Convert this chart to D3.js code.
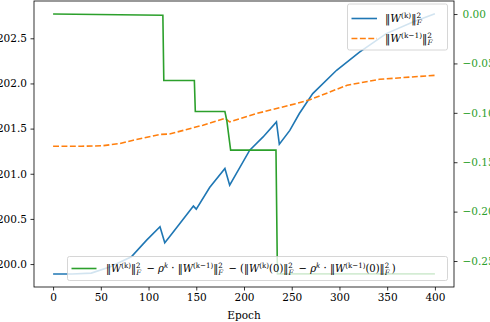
<!DOCTYPE html>
<html>
<head>
  <script src="https://d3js.org/d3.v7.min.js"></script>
  <style>
    body { margin: 0; background: white; }
    svg { display: block; }
    text { font-family: "DejaVu Serif", "Liberation Serif", serif; }
  </style>
</head>
<body>
<script>
// data
var blueEpoch = [0, 20, 40, 60, 82, 98, 112, 117, 122, 133, 147, 150, 164, 180, 185, 206, 220, 234, 237, 248, 258, 272, 297, 321, 349, 377, 400];
var blueVal   = [199.89, 199.89, 199.9, 199.97, 200.08, 200.265, 200.413, 200.236, 200.302, 200.453, 200.642, 200.608, 200.848, 201.059, 200.874, 201.261, 201.408, 201.574, 201.327, 201.48, 201.667, 201.888, 202.146, 202.348, 202.552, 202.68, 202.773];

var orangeEpoch = [0, 30, 52, 70, 84, 112, 122, 157, 180, 185, 213, 238, 255, 269, 308, 342, 400];
var orangeVal   = [201.305, 201.305, 201.31, 201.335, 201.372, 201.435, 201.44, 201.538, 201.612, 201.574, 201.667, 201.733, 201.778, 201.82, 201.98, 202.046, 202.09];

var greenEpoch = [0, 115, 116, 148, 149, 180, 182, 186, 233.5, 235, 400];
var greenVal   = [0.0, -0.0013, -0.0673, -0.0673, -0.0987, -0.0987, -0.108, -0.1378, -0.1378, -0.263, -0.263];

var xTicks = [0, 50, 100, 150, 200, 250, 300, 350, 400];
var yLeftTicks = [200.0, 200.5, 201.0, 201.5, 202.0, 202.5];
var yRightTicks = [0.0, -0.05, -0.10, -0.15, -0.20, -0.25];

var width = 490, height = 322;
var m = { left: 34, right: 454, top: 1, bottom: 287 };

var svg = d3.select("body").append("svg")
  .attr("width", width).attr("height", height);

var x = d3.scaleLinear().domain([-20, 420]).range([m.left, m.right]);
var yL = d3.scaleLinear().domain([199.746, 202.913]).range([m.bottom, m.top]);
var yR = d3.scaleLinear().domain([-0.2763, 0.0132]).range([m.bottom, m.top]);

var blue = "#1f77b4", orange = "#ff7f0e", green = "#2ca02c";

function toPts(ex, vals) { return ex.map(function(e, i) { return [e, vals[i]]; }); }

var lineL = d3.line().x(d => x(d[0])).y(d => yL(d[1]));
var lineR = d3.line().x(d => x(d[0])).y(d => yR(d[1]));

svg.append("path").attr("d", lineL(toPts(blueEpoch, blueVal)))
  .attr("fill", "none").attr("stroke", blue).attr("stroke-width", 1.6);
svg.append("path").attr("d", lineL(toPts(orangeEpoch, orangeVal)))
  .attr("fill", "none").attr("stroke", orange).attr("stroke-width", 1.6)
  .attr("stroke-dasharray", "5.9,2.5");

// math-ish label builder
function norm(t, sup, tail) {
  t.append("tspan").text("\u2016");
  t.append("tspan").attr("font-style", "italic").text("W");
  t.append("tspan").attr("font-size", "0.7em").attr("dy", -4).text(sup);
  t.append("tspan").attr("dy", 4).text((tail || "") + "\u2016");
  t.append("tspan").attr("font-size", "0.7em").attr("dy", -4).text("2");
  t.append("tspan").attr("font-size", "0.7em").attr("font-style", "italic").attr("dx", -4.5).attr("dy", 7).text("F");
  t.append("tspan").attr("dy", -3).text("\u2009");
}
function rho(t) {
  t.append("tspan").attr("font-style", "italic").text(" \u2212 \u03c1");
  t.append("tspan").attr("font-size", "0.7em").attr("font-style", "italic").attr("dy", -4).text("k");
  t.append("tspan").attr("dy", 4).text(" \u00b7 ");
}

// upper-right legend (left axis)
var lg = svg.append("g");
lg.append("rect").attr("x", 347.5).attr("y", 4).attr("width", 100).attr("height", 46).attr("rx", 2)
  .attr("fill", "white").attr("fill-opacity", 0.8).attr("stroke", "#cccccc").attr("stroke-width", 0.8);
lg.append("line").attr("x1", 351.5).attr("x2", 377).attr("y1", 18.5).attr("y2", 18.5)
  .attr("stroke", blue).attr("stroke-width", 1.6);
lg.append("line").attr("x1", 351.5).attr("x2", 377).attr("y1", 38.5).attr("y2", 38.5)
  .attr("stroke", orange).attr("stroke-width", 1.6).attr("stroke-dasharray", "5.9,2.5");
var t1 = lg.append("text").attr("x", 385).attr("y", 22).attr("font-size", 10.5);
norm(t1, "(k)");
var t2 = lg.append("text").attr("x", 385).attr("y", 42).attr("font-size", 10.5);
norm(t2, "(k\u22121)");

// right axis line (green)
svg.append("path").attr("d", lineR(toPts(greenEpoch, greenVal)))
  .attr("fill", "none").attr("stroke", green).attr("stroke-width", 1.6);

// lower legend (right axis)
var lg2 = svg.append("g");
lg2.append("rect").attr("x", 67.5).attr("y", 256.5).attr("width", 380).attr("height", 24).attr("rx", 2)
  .attr("fill", "white").attr("fill-opacity", 0.8).attr("stroke", "#cccccc").attr("stroke-width", 0.8);
lg2.append("line").attr("x1", 71.5).attr("x2", 96.5).attr("y1", 268.5).attr("y2", 268.5)
  .attr("stroke", green).attr("stroke-width", 1.6);
var t3 = lg2.append("text").attr("x", 106).attr("y", 272).attr("font-size", 10.5);
norm(t3, "(k)");
rho(t3);
norm(t3, "(k\u22121)");
t3.append("tspan").text(" \u2212 (");
norm(t3, "(k)", "(0)");
rho(t3);
norm(t3, "(k\u22121)", "(0)");
t3.append("tspan").text(")");
var want = 307, got = t3.node().getComputedTextLength();
if (got > 0) t3.attr("transform", "translate(106,0) scale(" + (want / got) + ",1) translate(-106,0)");

// axes
var fmt1 = d => d.toFixed(1);
var fmt2 = d => (d < 0 ? "\u2212" : "") + Math.abs(d).toFixed(2);

var gx = svg.append("g").attr("transform", "translate(0," + m.bottom + ")")
  .call(d3.axisBottom(x).tickValues(xTicks).tickSize(3.5).tickPadding(3).tickFormat(d3.format("d")));
var gl = svg.append("g").attr("transform", "translate(" + m.left + ",0)")
  .call(d3.axisLeft(yL).tickValues(yLeftTicks).tickSize(3.5).tickPadding(3.5).tickFormat(fmt1));
var gr = svg.append("g").attr("transform", "translate(" + m.right + ",0)")
  .call(d3.axisRight(yR).tickValues(yRightTicks).tickSize(3.5).tickPadding(5).tickFormat(fmt2));

[gx, gl, gr].forEach(function(g) {
  g.select(".domain").remove();
  g.selectAll("line").attr("stroke", "black").attr("stroke-width", 0.8);
  g.selectAll("text").attr("font-size", 10.5).attr("font-family", "DejaVu Serif, serif").attr("fill", "black");
});
gr.selectAll("text").attr("fill", green);

svg.append("rect").attr("x", m.left).attr("y", m.top)
  .attr("width", m.right - m.left).attr("height", m.bottom - m.top)
  .attr("fill", "none").attr("stroke", "black").attr("stroke-width", 0.8);

svg.append("text").attr("x", (m.left + m.right) / 2).attr("y", 319)
  .attr("text-anchor", "middle").attr("font-size", 10.5).text("Epoch");
</script>
</body>
</html>
